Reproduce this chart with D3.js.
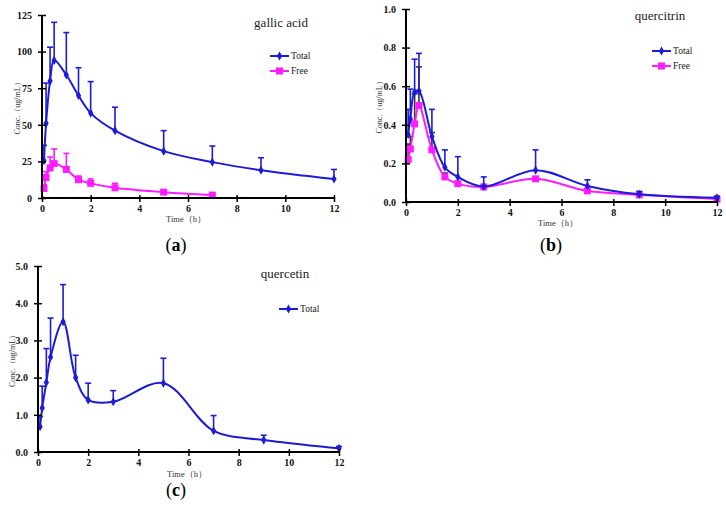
<!DOCTYPE html>
<html><head><meta charset="utf-8">
<script src="https://cdn.jsdelivr.net/npm/d3@7"></script>
<style>body{margin:0;background:#fff}svg{display:block}</style>
</head><body>
<svg id="c" width="726" height="510"></svg>
<script>
const times = [0.083,0.167,0.333,0.5,1,1.5,2,3,5,7,9,12];
const xTicks = [0,2,4,6,8,10,12];

// (a) gallic acid
const gaTotal    = [25.5,51,80,94,84,70,58,46,32,24.5,19,13];
const gaTotalErr = [36,78.5,103,120,113,89,79.5,62,46,35.5,27.5,19.5];
const gaFreeTimes = [0.083,0.167,0.333,0.5,1,1.5,2,3,5,7];
const gaFree     = [6.5,14,20.5,23.5,19.5,12.5,10,7,4,2];
const gaFreeErr  = [9,18,28,33.5,30.5,15,13,10,5,2.5];
const gaYTicks = [0,25,50,75,100,125];

// (b) quercitrin
const qcTotal    = [0.35,0.43,0.57,0.575,0.34,0.18,0.13,0.08,0.165,0.083,0.04,0.022];
const qcTotalErr = [0.48,0.585,0.74,0.77,0.48,0.27,0.235,0.13,0.27,0.115,0.055,0.03];
const qcFree     = [0.22,0.275,0.405,0.50,0.27,0.13,0.095,0.078,0.12,0.058,0.037,0.015];
const qcFreeErr  = [0.30,0.34,0.56,0.70,0.36,0.15,0.10,0.09,0.13,0.065,0.04,0.02];
const qcYTicks = [0,0.2,0.4,0.6,0.8,1.0];

// (c) quercetin
const qeTotal    = [0.68,1.18,1.87,2.55,3.5,2.0,1.4,1.35,1.85,0.57,0.32,0.1];
const qeTotalErr = [0.95,1.77,2.78,3.6,4.5,2.6,1.85,1.65,2.52,0.98,0.45,0.15];
const qeYTicks = [0,1,2,3,4,5];

const BLUE = "#1c1cd8", MAG = "#ff1aff";

const panels = [
  {x0:42,x1:334,y0:198,y1:15,yMax:125,yt:gaYTicks,fmt:d3.format("d"),
   title:"gallic acid",tx:281,ty:27,ylx:17,lab:"(a)",labx:176,laby:251,timex:186,timey:222,
   leg:{x:270,y:56},
   series:[
     {t:times,v:gaTotal,e:gaTotalErr,c:BLUE,m:"diamond",name:"Total",ec:BLUE},
     {t:gaFreeTimes,v:gaFree,e:gaFreeErr,c:MAG,m:"square",name:"Free",ec:MAG}]},
  {x0:406,x1:717,y0:202,y1:9,yMax:1,yt:qcYTicks,fmt:d3.format(".1f"),
   title:"quercitrin",tx:660,ty:20,ylx:379,lab:"(b)",labx:551,laby:251,timex:558,timey:226,
   leg:{x:652,y:51},
   series:[
     {t:times,v:qcFree,e:qcFreeErr,c:MAG,m:"square",name:"Free",ec:"#333"},
     {t:times,v:qcTotal,e:qcTotalErr,c:BLUE,m:"diamond",name:"Total",ec:BLUE}],
   legOrder:["Total","Free"]},
  {x0:38,x1:339,y0:452,y1:266,yMax:5,yt:qeYTicks,fmt:d3.format(".1f"),
   title:"quercetin",tx:285,ty:278,ylx:12,lab:"(c)",labx:176,laby:496,timex:187,timey:477,
   leg:{x:279,y:309},
   series:[
     {t:times,v:qeTotal,e:qeTotalErr,c:BLUE,m:"diamond",name:"Total",ec:BLUE}]}
];

const svg = d3.select("#c");
const serif = "'Liberation Serif','DejaVu Serif',serif";

function marker(g, type, color, x, y){
  if(type==="square"){
    g.append("rect").attr("x",x-3.5).attr("y",y-3.5).attr("width",7).attr("height",7).attr("fill",color);
  } else {
    g.append("path").attr("d",d3.symbol(d3.symbolDiamond,24)()).attr("transform",`translate(${x},${y})`).attr("fill",color);
  }
}

panels.forEach(p=>{
  const g = svg.append("g");
  const x = d3.scaleLinear().domain([0,12]).range([p.x0,p.x1]);
  const y = d3.scaleLinear().domain([0,p.yMax]).range([p.y0,p.y1]);

  p.series.forEach(s=>{
    const pts = s.t.map((t,i)=>[t,s.v[i],s.e[i]]);
    pts.forEach(d=>{
      g.append("line").attr("x1",x(d[0])).attr("x2",x(d[0])).attr("y1",y(d[1])).attr("y2",y(d[2]))
        .attr("stroke",s.ec).attr("stroke-width",1.6);
      g.append("line").attr("x1",x(d[0])-3).attr("x2",x(d[0])+3).attr("y1",y(d[2])).attr("y2",y(d[2]))
        .attr("stroke",s.ec).attr("stroke-width",1.6);
    });
    const line = d3.line().x(d=>x(d[0])).y(d=>y(d[1])).curve(d3.curveCatmullRom.alpha(0.5));
    g.append("path").datum(pts).attr("d",line).attr("fill","none").attr("stroke",s.c).attr("stroke-width",2);
    pts.forEach(d=>marker(g,s.m,s.c,x(d[0]),y(d[1])));
  });

  const xa = g.append("g").attr("transform",`translate(0,${p.y0})`)
    .call(d3.axisBottom(x).tickValues(xTicks).tickFormat(d3.format("d")).tickSize(4).tickPadding(3));
  const ya = g.append("g").attr("transform",`translate(${p.x0},0)`)
    .call(d3.axisLeft(y).tickValues(p.yt).tickFormat(p.fmt).tickSize(4).tickPadding(6));
  [xa,ya].forEach(a=>{
    a.select(".domain").attr("stroke","#000").attr("stroke-width",2).attr("d", a===xa?`M${p.x0},0H${p.x1}`:`M0,${p.y0}V${p.y1}`);
    a.selectAll(".tick line").attr("stroke","#000").attr("stroke-width",1.5);
    a.selectAll("text").attr("font-family",serif).attr("font-weight","bold").attr("font-size",10).attr("fill","#111");
  });
  ya.selectAll(".tick line").attr("x1",4);
  xa.selectAll(".tick line").attr("y1",-3);

  g.append("text").attr("x",p.timex).attr("y",p.timey).attr("text-anchor","middle")
    .attr("font-family",serif).attr("font-size",8.5).attr("fill","#333").text("Time（h）");
  g.append("text").attr("transform",`translate(${p.ylx},${(p.y0+p.y1)/2}) rotate(-90)`).attr("text-anchor","middle")
    .attr("dy","0.35em").attr("font-family",serif).attr("font-size",8).attr("fill","#333").text("Conc.（ug/mL）");
  g.append("text").attr("x",p.tx).attr("y",p.ty).attr("text-anchor","middle")
    .attr("font-family",serif).attr("font-size",13).attr("fill","#222").text(p.title);
  g.append("text").attr("x",p.labx).attr("y",p.laby).attr("text-anchor","middle")
    .attr("font-family",serif).attr("font-size",18).attr("fill","#000")
    .html('(<tspan font-weight="bold">'+p.lab.slice(1,2)+'</tspan>)');

  const order = p.legOrder || p.series.map(s=>s.name);
  order.forEach((nm,i)=>{
    const s = p.series.find(q=>q.name===nm);
    const ly = p.leg.y + i*15;
    g.append("line").attr("x1",p.leg.x).attr("x2",p.leg.x+19).attr("y1",ly).attr("y2",ly).attr("stroke",s.c).attr("stroke-width",2);
    marker(g,s.m,s.c,p.leg.x+9.5,ly);
    g.append("text").attr("x",p.leg.x+21).attr("y",ly).attr("dy","0.35em")
      .attr("font-family",serif).attr("font-size",9.5).attr("fill","#222").text(nm);
  });
});
</script>
</body></html>
